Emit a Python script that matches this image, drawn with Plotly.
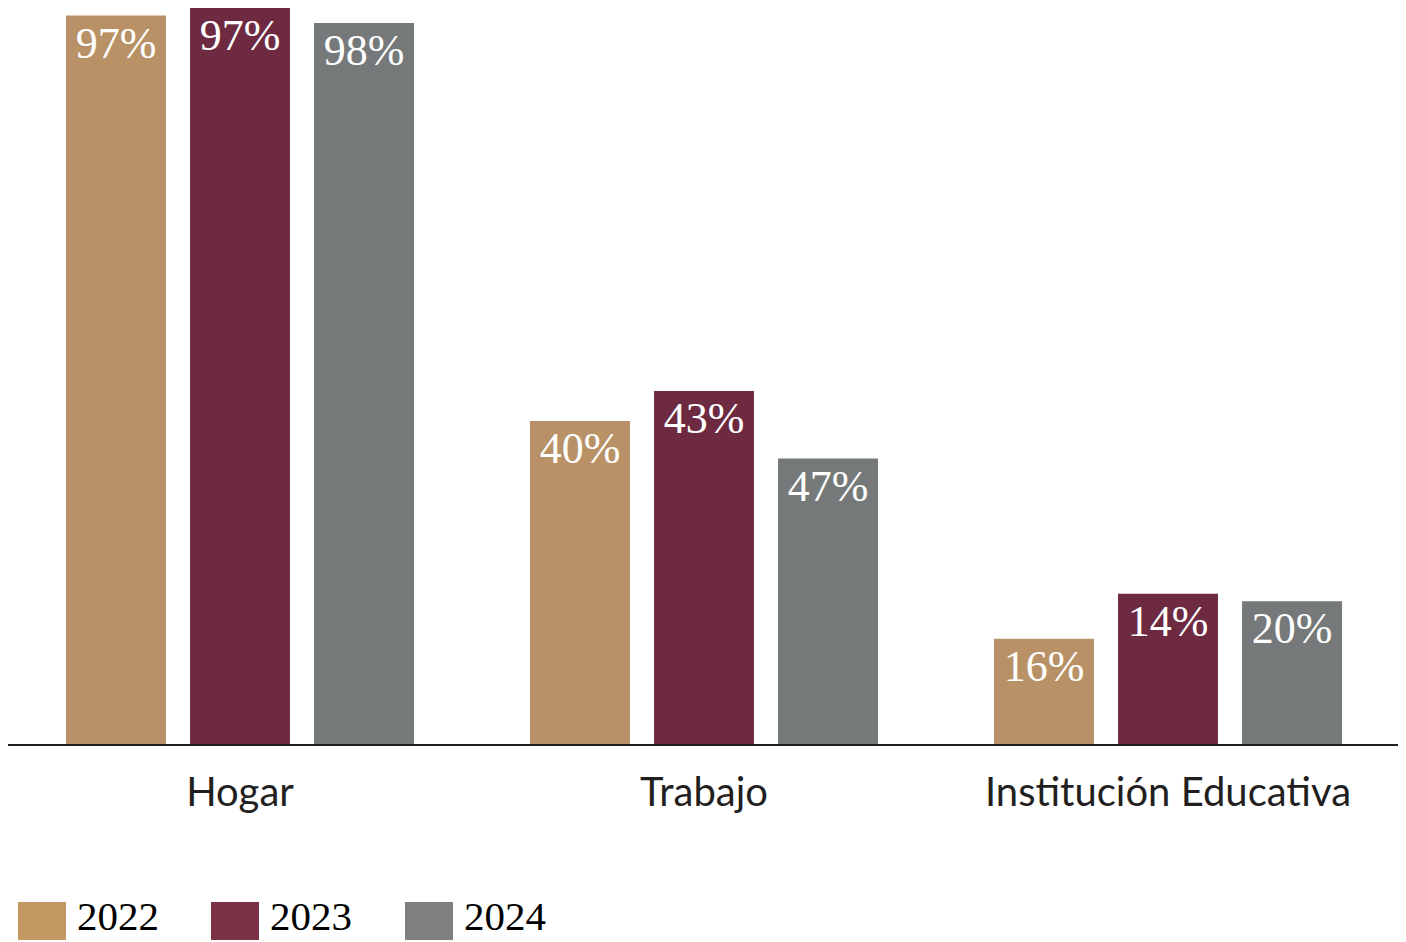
import plotly.graph_objects as go

categories = ["Hogar", "Trabajo", "Institución Educativa"]
years = ["2022", "2023", "2024"]
# bar heights as drawn in the picture (percent)
values_2022 = [97, 43, 14]
values_2023 = [98, 47, 20]
values_2024 = [96, 38, 19]
# labels printed on the bars
labels_2022 = ["97%", "40%", "16%"]
labels_2023 = ["97%", "43%", "14%"]
labels_2024 = ["98%", "47%", "20%"]

bar_colors = ["#B89266", "#6D2A41", "#767979"]
legend_colors = ["#C29963", "#7A3045", "#808080"]

series = [
    (years[0], values_2022, labels_2022),
    (years[1], values_2023, labels_2023),
    (years[2], values_2024, labels_2024),
]

OFF = 8  # page body margin
W, H = 1392, 934
ML, MR, MT, MB = 0, 0, 0, 198
PW, PH = W - ML - MR, H - MT - MB

fig = go.Figure()
for (name, vals, labs), col in zip(series, bar_colors):
    fig.add_trace(go.Bar(
        x=categories, y=vals, name=name, marker_color=col,
        marker_line_width=0,
        text=labs, textposition="inside", insidetextanchor="end",
        textangle=0, constraintext="none",
        textfont=dict(family="Liberation Serif", size=44, color="white"),
        showlegend=False,
    ))

def px_to_paper_x(px):
    return (px - OFF - ML) / PW

def px_to_paper_y(py):
    return (H - MB - (py - OFF)) / PH

shapes = []
annotations = []
legend_x = [18, 211, 405]
for name, col, lx in zip(years, legend_colors, legend_x):
    shapes.append(dict(type="rect", xref="paper", yref="paper",
                       x0=px_to_paper_x(lx), x1=px_to_paper_x(lx + 48),
                       y0=px_to_paper_y(940), y1=px_to_paper_y(902),
                       fillcolor=col, line_width=0))
    annotations.append(dict(text=name, xref="paper", yref="paper",
                            x=px_to_paper_x(lx + 57), y=px_to_paper_y(916),
                            xanchor="left", yanchor="middle", showarrow=False,
                            font=dict(family="Liberation Serif", size=41, color="black")))

fig.update_layout(
    width=W, height=H,
    margin=dict(l=ML, r=MR, t=MT, b=MB),
    paper_bgcolor="white", plot_bgcolor="white",
    barmode="group", bargap=0.198, bargroupgap=0.194,
    showlegend=False,
    shapes=shapes, annotations=annotations,
    xaxis=dict(showline=True, linecolor="#231F20", linewidth=2,
               ticks="", showgrid=False, ticklabelstandoff=12,
               tickfont=dict(family="Lato", size=40, color="#231F20")),
    yaxis=dict(range=[0, 98], visible=False, showgrid=False, zeroline=False),
)

fig.write_html("out.html")
